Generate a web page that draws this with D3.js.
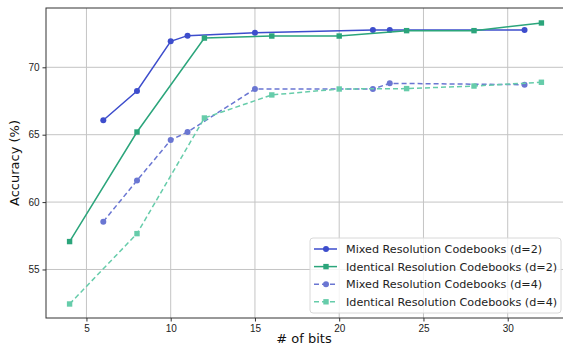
<!DOCTYPE html>
<html>
<head>
<meta charset="utf-8">
<script src="https://cdn.jsdelivr.net/npm/d3@7"></script>
<style>
	body { margin: 0; background: #fff; overflow: hidden; }
	svg { display: block; font-family: "DejaVu Sans", sans-serif; }
	.tick text { font-size: 10px; fill: #222; }
</style>
</head>
<body>
<svg id="chart" width="563" height="349"></svg>
<script>
// values
const mixedD2Bits = [6, 8, 10, 11, 15, 22, 23, 31];
const mixedD2Acc = [66.07, 68.24, 71.93, 72.35, 72.57, 72.77, 72.77, 72.77];

const identD2Bits = [4, 8, 12, 16, 20, 24, 28, 32];
const identD2Acc = [57.07, 65.2, 72.17, 72.32, 72.32, 72.72, 72.72, 73.29];

const mixedD4Bits = [6, 8, 10, 11, 15, 22, 23, 31];
const mixedD4Acc = [58.55, 61.6, 64.6, 65.2, 68.39, 68.39, 68.81, 68.71];

const identD4Bits = [4, 8, 12, 16, 20, 24, 28, 32];
const identD4Acc = [52.44, 57.66, 66.24, 67.95, 68.39, 68.42, 68.61, 68.89];

const xTicks = [5, 10, 15, 20, 25, 30];
const yTicks = [55, 60, 65, 70];

const seriesNames = [
	'Mixed Resolution Codebooks (d=2)',
	'Identical Resolution Codebooks (d=2)',
	'Mixed Resolution Codebooks (d=4)',
	'Identical Resolution Codebooks (d=4)'
];

const series = [
	{ name: seriesNames[0], x: mixedD2Bits, y: mixedD2Acc, color: '#3d4dcc', dash: null, marker: 'circle' },
	{ name: seriesNames[1], x: identD2Bits, y: identD2Acc, color: '#2ba57b', dash: null, marker: 'square' },
	{ name: seriesNames[2], x: mixedD4Bits, y: mixedD4Acc, color: '#6a76d2', dash: '5,3', marker: 'circle' },
	{ name: seriesNames[3], x: identD4Bits, y: identD4Acc, color: '#66ccaa', dash: '5,3', marker: 'square' }
];

const plotL = 46, plotR = 565, plotT = 8, plotB = 318;

const svg = d3.select('#chart');

const xScale = d3.scaleLinear().domain([2.6, 33.4]).range([plotL, plotR]);
const yScale = d3.scaleLinear().domain([51.4, 74.4]).range([plotB, plotT]);

// grid
const grid = svg.append('g');
grid.selectAll('.vgrid')
	.data(xTicks)
	.enter()
	.append('line')
	.attr('x1', d => xScale(d)).attr('x2', d => xScale(d))
	.attr('y1', plotT).attr('y2', plotB)
	.attr('stroke', '#c4c4c4').attr('stroke-width', 1);
grid.selectAll('.hgrid')
	.data(yTicks)
	.enter()
	.append('line')
	.attr('x1', plotL).attr('x2', plotR)
	.attr('y1', d => yScale(d)).attr('y2', d => yScale(d))
	.attr('stroke', '#c4c4c4').attr('stroke-width', 1);

// lines + markers
const line = d3.line()
	.x(d => xScale(d[0]))
	.y(d => yScale(d[1]));

series.forEach(s => {
	const pts = s.x.map((v, i) => [v, s.y[i]]);
	svg.append('path')
		.datum(pts)
		.attr('d', line)
		.attr('fill', 'none')
		.attr('stroke', s.color)
		.attr('stroke-width', 1.5)
		.attr('stroke-dasharray', s.dash);

	if (s.marker === 'circle') {
		svg.append('g').selectAll('circle')
			.data(pts)
			.enter()
			.append('circle')
			.attr('cx', d => xScale(d[0]))
			.attr('cy', d => yScale(d[1]))
			.attr('r', 3)
			.attr('fill', s.color);
	} else {
		svg.append('g').selectAll('rect')
			.data(pts)
			.enter()
			.append('rect')
			.attr('x', d => xScale(d[0]) - 2.7)
			.attr('y', d => yScale(d[1]) - 2.7)
			.attr('width', 5.4)
			.attr('height', 5.4)
			.attr('fill', s.color);
	}
});

// axes
const xAxis = d3.axisBottom(xScale).tickValues(xTicks).tickSize(3.5).tickPadding(3);
svg.append('g')
	.attr('transform', 'translate(0,' + plotB + ')')
	.call(xAxis)
	.call(g => g.select('.domain').remove());

const yAxis = d3.axisLeft(yScale).tickValues(yTicks).tickSize(3.5).tickPadding(3);
svg.append('g')
	.attr('transform', 'translate(' + plotL + ',0)')
	.call(yAxis)
	.call(g => g.select('.domain').remove());

svg.selectAll('.tick line').attr('stroke', '#333');

// frame
svg.append('rect')
	.attr('x', plotL).attr('y', plotT)
	.attr('width', plotR - plotL).attr('height', plotB - plotT)
	.attr('fill', 'none')
	.attr('stroke', '#333')
	.attr('stroke-width', 1);

// axis labels
svg.append('text')
	.attr('x', (plotL + 562) / 2)
	.attr('y', 343)
	.attr('text-anchor', 'middle')
	.attr('font-size', 13)
	.attr('fill', '#111')
	.text('# of bits');

svg.append('text')
	.attr('transform', 'translate(19,' + ((plotT + plotB) / 2) + ') rotate(-90)')
	.attr('text-anchor', 'middle')
	.attr('font-size', 13)
	.attr('fill', '#111')
	.text('Accuracy (%)');

// legend
const legend = svg.append('g').attr('transform', 'translate(310,238)');
legend.append('rect')
	.attr('x', 0).attr('y', 0)
	.attr('width', 251).attr('height', 75)
	.attr('rx', 3)
	.attr('fill', 'rgba(255,255,255,0.8)')
	.attr('stroke', '#d8d8d8');

series.forEach((s, i) => {
	const yy = 11 + i * 17.6;
	legend.append('line')
		.attr('x1', 4).attr('x2', 27)
		.attr('y1', yy).attr('y2', yy)
		.attr('stroke', s.color)
		.attr('stroke-width', 1.5)
		.attr('stroke-dasharray', s.dash);
	if (s.marker === 'circle') {
		legend.append('circle').attr('cx', 16).attr('cy', yy).attr('r', 3).attr('fill', s.color);
	} else {
		legend.append('rect').attr('x', 13.3).attr('y', yy - 2.7).attr('width', 5.4).attr('height', 5.4).attr('fill', s.color);
	}
	legend.append('text')
		.attr('x', 36)
		.attr('y', yy + 4)
		.attr('font-size', 11.2)
		.attr('fill', '#222')
		.text(s.name);
});
</script>
</body>
</html>
